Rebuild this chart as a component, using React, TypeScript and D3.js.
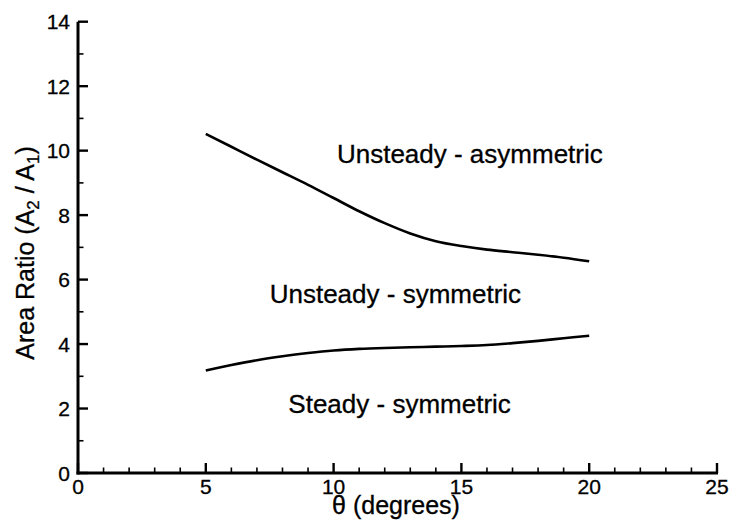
import React from "react";
import * as d3 from "d3";

// Stability boundaries: area ratio A2/A1 versus half-angle θ (degrees)
const thetaValues = [5, 6, 7, 8, 9, 10, 11, 12, 13, 14, 15, 16, 17, 18, 19, 20];
const upperBoundary = [10.52, 10.12, 9.72, 9.33, 8.94, 8.53, 8.12, 7.75, 7.43, 7.19, 7.04, 6.93, 6.85, 6.77, 6.68, 6.57];
const lowerBoundary = [3.18, 3.35, 3.5, 3.62, 3.72, 3.8, 3.85, 3.88, 3.9, 3.92, 3.94, 3.97, 4.03, 4.1, 4.18, 4.26];

const xMajorTicks = [0, 5, 10, 15, 20, 25];
const yMajorTicks = [0, 2, 4, 6, 8, 10, 12, 14];

// Region labels, anchored at their start in data coordinates
const regionLabels = [
  { text: "Unsteady - asymmetric", theta: 10.13, ratio: 9.62 },
  { text: "Unsteady - symmetric", theta: 7.5, ratio: 5.27 },
  { text: "Steady - symmetric", theta: 8.23, ratio: 1.86 },
];

const W = 731;
const H = 522;
const FONT = "'Liberation Sans', Arial, Helvetica, sans-serif";

export default function App() {
  const x = d3.scaleLinear().domain([0, 25]).range([78, 717]);
  const y = d3.scaleLinear().domain([0, 14]).range([473, 21.7]);

  const line = d3
    .line<[number, number]>()
    .x((d) => x(d[0]))
    .y((d) => y(d[1]))
    .curve(d3.curveMonotoneX);

  const upper = thetaValues.map((t, i) => [t, upperBoundary[i]] as [number, number]);
  const lower = thetaValues.map((t, i) => [t, lowerBoundary[i]] as [number, number]);

  const xMinor = d3.range(0, 26).filter((v) => v % 5 !== 0);
  const yMinor = d3.range(0, 15).filter((v) => v % 2 !== 0);

  const x0 = x(0);
  const y0 = y(0);

  return (
    <svg
      width={W}
      height={H}
      viewBox={`0 0 ${W} ${H}`}
      style={{ position: "absolute", left: 0, top: 0, background: "#fff" }}
      fontFamily={FONT}
    >
      <rect width={W} height={H} fill="#fff" />

      {/* boundary curves */}
      <path d={line(upper) ?? ""} fill="none" stroke="#000" strokeWidth={2.6} strokeLinejoin="round" />
      <path d={line(lower) ?? ""} fill="none" stroke="#000" strokeWidth={2.6} strokeLinejoin="round" />

      {/* axes */}
      <line x1={x0} x2={x0} y1={y(14)} y2={y0 + 1.5} stroke="#000" strokeWidth={3} />
      <line x1={x0 - 1.5} x2={x(25) + 1} y1={y0} y2={y0} stroke="#000" strokeWidth={3} />

      {/* x ticks */}
      {xMajorTicks.map((v) => (
        <line key={`xM${v}`} x1={x(v)} x2={x(v)} y1={y0} y2={y0 - 10} stroke="#000" strokeWidth={2.4} />
      ))}
      {xMinor.map((v) => (
        <line key={`xm${v}`} x1={x(v)} x2={x(v)} y1={y0} y2={y0 - 5.5} stroke="#000" strokeWidth={1.6} />
      ))}
      {xMajorTicks.map((v) => (
        <text key={`xl${v}`} x={x(v)} y={494} fontSize={21} textAnchor="middle" fill="#000" stroke="#000" strokeWidth={0.3}>
          {v}
        </text>
      ))}

      {/* y ticks */}
      {yMajorTicks.map((v) => (
        <line key={`yM${v}`} x1={x0} x2={x0 + 10} y1={y(v)} y2={y(v)} stroke="#000" strokeWidth={2.4} />
      ))}
      {yMinor.map((v) => (
        <line key={`ym${v}`} x1={x0} x2={x0 + 5.5} y1={y(v)} y2={y(v)} stroke="#000" strokeWidth={1.6} />
      ))}
      {yMajorTicks.map((v) => (
        <text key={`yl${v}`} x={70} y={y(v)} dy="0.36em" fontSize={21} textAnchor="end" fill="#000" stroke="#000" strokeWidth={0.3}>
          {v}
        </text>
      ))}

      {/* axis titles */}
      <text x={396} y={514} fontSize={25} textAnchor="middle" fill="#000" stroke="#000" strokeWidth={0.3}>
        θ (degrees)
      </text>
      <text transform="translate(34,253) rotate(-90)" fontSize={25} textAnchor="middle" fill="#000" stroke="#000" strokeWidth={0.3}>
        Area Ratio (A
        <tspan fontSize={17} dy={5}>2</tspan>
        <tspan dy={-5}> / A</tspan>
        <tspan fontSize={17} dy={5}>1</tspan>
        <tspan dy={-5}>)</tspan>
      </text>

      {/* region labels */}
      {regionLabels.map((l) => (
        <text key={l.text} x={x(l.theta)} y={y(l.ratio)} fontSize={26} fill="#000" stroke="#000" strokeWidth={0.3}>
          {l.text}
        </text>
      ))}
    </svg>
  );
}
